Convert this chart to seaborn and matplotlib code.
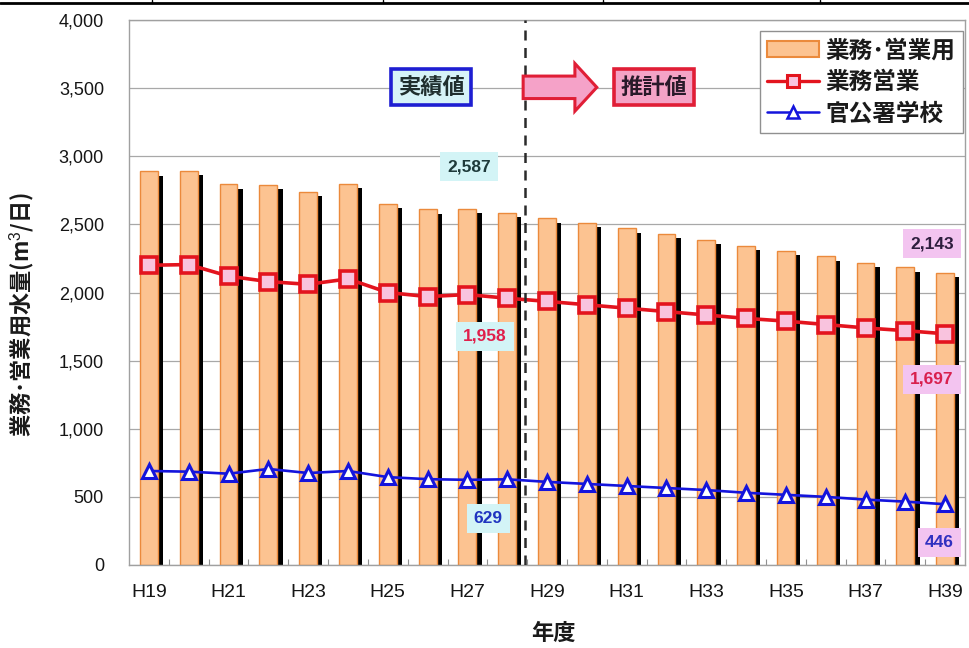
import numpy as np
import pandas as pd
import matplotlib
matplotlib.use("Agg")
import matplotlib.pyplot as plt
import matplotlib.patheffects as pe
from matplotlib.lines import Line2D
from matplotlib.patches import Patch, FancyArrow
from matplotlib.ticker import FuncFormatter, FixedLocator
import seaborn as sns

# 年度
years = ["H19", "H20", "H21", "H22", "H23", "H24", "H25", "H26", "H27", "H28",
         "H29", "H30", "H31", "H32", "H33", "H34", "H35", "H36", "H37", "H38", "H39"]
# 業務・営業用 (棒)
total = [2890, 2895, 2795, 2790, 2740, 2800, 2650, 2610, 2615, 2587,
         2545, 2510, 2470, 2430, 2385, 2345, 2305, 2265, 2220, 2185, 2143]
# 業務営業 (折れ線)
business = [2200, 2205, 2120, 2080, 2060, 2100, 2000, 1970, 1985, 1958,
            1935, 1910, 1885, 1860, 1835, 1810, 1790, 1765, 1740, 1720, 1697]
# 官公署学校 (折れ線)
public = [690, 685, 670, 705, 675, 690, 645, 630, 625, 629,
          610, 595, 580, 565, 550, 530, 515, 500, 480, 465, 446]

series_names = ["業務･営業用", "業務営業", "官公署学校"]
y_label = "業務･営業用水量(m$^3$/日)"
x_label = "年度"
actual_label = "実績値"
forecast_label = "推計値"
last_actual = years.index("H28")

sns.set_theme(style="white")
plt.rcParams["font.family"] = ["Liberation Sans", "Noto Sans CJK JP", "DejaVu Sans"]
plt.rcParams["mathtext.fontset"] = "custom"
plt.rcParams["mathtext.rm"] = "Liberation Sans"

CJK = ["Noto Sans CJK JP", "DejaVu Sans"]
BAR_FACE = "#FCC391"
BAR_EDGE = "#EB8A3C"
RED = "#E3141E"
RED_FACE = "#F9C3DE"
BLUE = "#1414DC"

fig = plt.figure(figsize=(9.7, 6.48), dpi=100)
ax = fig.add_axes([0.1330, 0.1281, 0.8619, 0.8410])

df = pd.DataFrame({"x": np.arange(len(years)), "year": years,
                   "total": total, "business": business, "public": public})

sns.barplot(data=df, x="x", y="total", color=BAR_FACE, saturation=1,
            edgecolor=BAR_EDGE, linewidth=1.0, width=0.45, ax=ax, zorder=2)
for bar in ax.patches:
    bar.set_path_effects([pe.SimplePatchShadow(offset=(3.8, -3.2),
                                               shadow_rgbFace="black", alpha=1.0),
                          pe.Normal()])

sns.lineplot(data=df, x="x", y="business", color=RED, linewidth=2.6,
             marker="s", markersize=11, markerfacecolor=RED_FACE,
             markeredgecolor=RED, markeredgewidth=2.6, ax=ax, zorder=4)
sns.lineplot(data=df, x="x", y="public", color=BLUE, linewidth=1.9,
             marker="^", markersize=10, markerfacecolor="white",
             markeredgecolor=BLUE, markeredgewidth=2.2, ax=ax, zorder=4)

ax.set_xlim(-0.5, len(years) - 0.5)
ax.set_ylim(0, 4000)
ax.set_yticks(np.arange(0, 4001, 500))
ax.yaxis.set_major_formatter(FuncFormatter(lambda v, p: f"{int(v):,}"))
ax.xaxis.set_major_locator(FixedLocator(np.arange(0, len(years), 2)))
ax.set_xticklabels(years[::2])
ax.xaxis.set_minor_locator(FixedLocator(np.arange(0.5, len(years) - 1, 1)))
ax.tick_params(axis="x", which="major", length=0, pad=14, labelsize=14,
               labelcolor="#151515")
ax.tick_params(axis="x", which="minor", direction="in", length=4,
               color="#909090", width=0.8, bottom=True)
ax.tick_params(axis="y", length=0, pad=18, labelsize=13, labelcolor="#151515")
ax.set_xlabel("")
ax.set_ylabel("")
ax.yaxis.grid(True, color="#A8A8A8", linewidth=0.9)
ax.set_axisbelow(True)
for s in ax.spines.values():
    s.set_color("#A0A0A0")
    s.set_linewidth(1.0)

# 実績値 / 推計値 の境界
ax.axvline(last_actual + 0.45, color="#2A2A2A", linestyle=(0, (4, 3)),
           linewidth=1.8, zorder=5)

# 区分ラベルと矢印
ax.text(7.09, 3506, actual_label, fontsize=16, fontweight="bold",
        color="#1F2E2E", ha="center", va="center", zorder=6, family=CJK,
        bbox=dict(boxstyle="square,pad=0.3", facecolor="#D6F3F8",
                  edgecolor="#1E1ED2", linewidth=2.6))
ax.text(12.69, 3506, forecast_label, fontsize=16, fontweight="bold",
        color="#2A1A2A", ha="center", va="center", zorder=6, family=CJK,
        bbox=dict(boxstyle="square,pad=0.3", facecolor="#F4A3C6",
                  edgecolor="#E01E36", linewidth=2.6))
ax.add_patch(FancyArrow(9.4, 3506, 1.85, 0, width=165, head_width=350,
                        head_length=0.55, length_includes_head=True,
                        facecolor="#F5A2C8", edgecolor="#E01E36",
                        linewidth=2.2, zorder=6))

# 数値ラベル
cyan_box = dict(boxstyle="square,pad=0.4", facecolor="#D3F4F6", edgecolor="none")
pink_box = dict(boxstyle="square,pad=0.4", facecolor="#F3C4F0", edgecolor="none")
num_style = dict(fontsize=12.5, fontweight="bold", ha="center", va="center", zorder=6)
ax.text(8.04, 2924, f"{total[last_actual]:,}", color="#1E3A3A", bbox=cyan_box, **num_style)
ax.text(8.44, 1680, f"{business[last_actual]:,}", color="#E0204C", bbox=cyan_box, **num_style)
ax.text(8.52, 339, f"{public[last_actual]:,}", color="#2034C0", bbox=cyan_box, **num_style)
ax.text(19.67, 2357, f"{total[-1]:,}", color="#2E1E3E", bbox=pink_box, **num_style)
ax.text(19.67, 1363, f"{business[-1]:,}", color="#D8204E", bbox=pink_box, **num_style)
ax.text(19.85, 162, f"{public[-1]:,}", color="#3030C0", bbox=pink_box, **num_style)

# 凡例
handles = [
    Patch(facecolor=BAR_FACE, edgecolor=BAR_EDGE, linewidth=1.5),
    Line2D([], [], color=RED, linewidth=2.4, marker="s", markersize=9,
           markerfacecolor=RED_FACE, markeredgecolor=RED, markeredgewidth=2.2),
    Line2D([], [], color=BLUE, linewidth=1.8, marker="^", markersize=8,
           markerfacecolor="white", markeredgecolor=BLUE, markeredgewidth=1.8),
]
leg = ax.legend(handles, series_names, loc="upper right",
                bbox_to_anchor=(1.003, 0.988), borderaxespad=0.2,
                prop={"size": 17, "weight": "bold", "family": CJK},
                frameon=True, fancybox=False, edgecolor="#909090",
                framealpha=1.0, handlelength=2.2, handletextpad=0.3,
                labelspacing=0.32, borderpad=0.3)
leg.get_frame().set_linewidth(1.0)
for t in leg.get_texts():
    t.set_color("#1A1A1A")

# 軸ラベル
fig.text(553 / 970, 1 - 633 / 648, x_label, fontsize=16, fontweight="bold",
         ha="center", va="center", color="#1A1A1A", family=CJK)
fig.text(22 / 970, 1 - 314 / 648, y_label, fontsize=16, fontweight="bold",
         rotation=90, ha="center", va="center", color="#1A1A1A", family=CJK)

# 上端の罫線
fig.add_artist(Line2D([0, 1], [1 - 3 / 648, 1 - 3 / 648], color="black",
                      linewidth=2.0, transform=fig.transFigure))
for px in (152, 383, 603, 820):
    fig.add_artist(Line2D([px / 970, px / 970], [1 - 3 / 648, 1.0],
                          color="black", linewidth=1.0,
                          transform=fig.transFigure))

fig.savefig("out.png", dpi=100)
